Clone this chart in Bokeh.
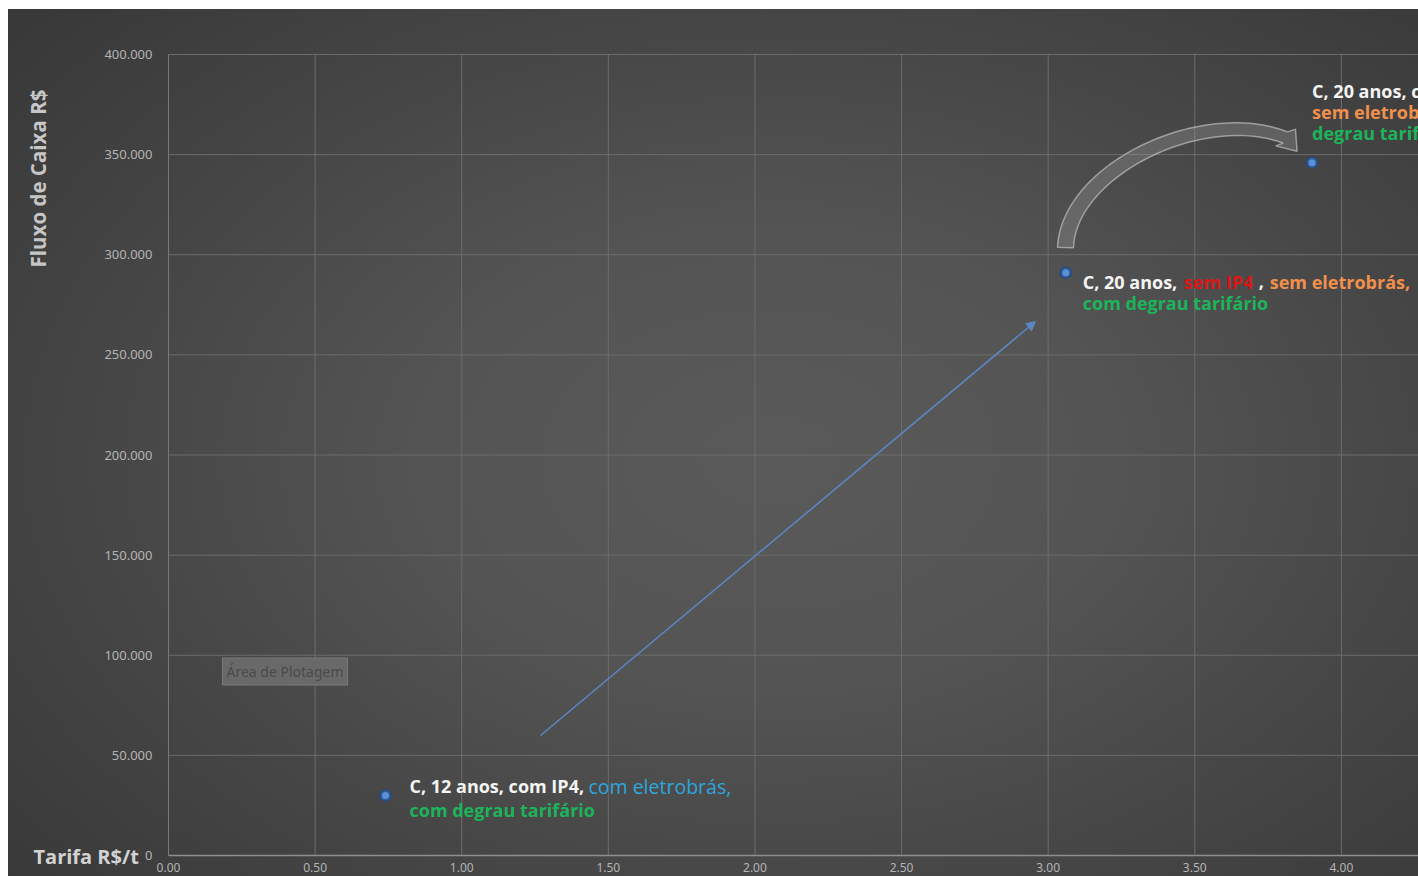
import numpy as np
from bokeh.plotting import figure
from bokeh.models import (Range1d, FixedTicker, CustomJSTickFormatter, NumeralTickFormatter,
                          Label, Arrow, NormalHead)
from bokeh.core.properties import value
from bokeh.embed import file_html
from bokeh.resources import INLINE

# ---------------- data ----------------
tarifa = [0.74, 3.06, 3.90]          # Tarifa R$/t
fluxo = [30000, 291000, 346000]      # Fluxo de Caixa R$
x_ticks = [0.0, 0.5, 1.0, 1.5, 2.0, 2.5, 3.0, 3.5, 4.0]
y_ticks = [0, 50000, 100000, 150000, 200000, 250000, 300000, 350000, 400000]

# text segments: (point index, line, segment text, colour key)
seg_point = [0, 0, 0, 1, 1, 1, 1, 1, 2, 2, 2, 2]
seg_line = [0, 0, 1, 0, 0, 0, 0, 1, 0, 1, 1, 2]
seg_text = ["C, 12 anos, com IP4,", "com eletrobrás,", "com degrau tarifário",
            "C, 20 anos,", "sem IP4", ",", "sem eletrobrás,", "com degrau tarifário",
            "C, 20 anos, com IP4,", "sem eletrobrás,", "com", "degrau tarifário"]
seg_color = ["white", "blue", "green", "white", "red", "white", "orange", "green",
             "white", "orange", "green", "green"]

# ---------------- layout (window pixels) ----------------
W, H = 1410, 867
X_END = 4.263
Y_END = 400000
OX, OY = 168, 855            # window px of data origin
PXU = (1418 - OX) / X_END    # px per x unit
PYU = (OY - 54) / Y_END      # px per y unit


def dx(px):
    return (px - OX) / PXU


def dy(py):
    return (OY - py) / PYU


palette = {"white": "#f4f4f4", "blue": "#2ea6dc", "green": "#1db35a",
           "orange": "#f0904c", "red": "#d81818"}

p = figure(width=W, height=H,
           x_range=Range1d(dx(8), dx(1418)), y_range=Range1d(dy(876), dy(9)),
           output_backend="svg", toolbar_location=None,
           min_border=0, margin=(9, 0, 0, 8),
           background_fill_alpha=0, border_fill_alpha=0, outline_line_color=None)
p.styles = {"background-image":
            "radial-gradient(ellipse 70% 75% at 54% 52%, #5a5a5a 0%, #545454 35%, #474747 65%, #393939 100%)"}
p.grid.visible = False

# grid lines over the plot area only
p.segment(x0=x_ticks, y0=[0] * len(x_ticks), x1=x_ticks, y1=[Y_END] * len(x_ticks),
          line_color="#6c6c6c", line_width=1)
p.segment(x0=[0] * len(y_ticks), y0=y_ticks, x1=[X_END] * len(y_ticks), y1=y_ticks,
          line_color="#6c6c6c", line_width=1)

# axes fixed at the data origin
p.xaxis.fixed_location = 0
p.xaxis.bounds = (0, X_END)
p.xaxis.ticker = FixedTicker(ticks=x_ticks)
p.xaxis.formatter = NumeralTickFormatter(format="0.00")
p.xaxis.axis_line_color = "#8e8e8e"
p.xaxis.axis_line_width = 1.5
p.xaxis.major_tick_line_color = None
p.xaxis.minor_tick_line_color = None
p.xaxis.major_tick_out = 0
p.xaxis.major_tick_in = 0
p.xaxis.major_label_standoff = 7
p.xaxis.major_label_text_color = "#b4b4b4"
p.xaxis.major_label_text_font = "Noto Sans"
p.xaxis.major_label_text_font_size = "12px"

p.yaxis.fixed_location = 0
p.yaxis.bounds = (0, Y_END)
p.yaxis.ticker = FixedTicker(ticks=y_ticks)
p.yaxis.formatter = CustomJSTickFormatter(
    code="return tick.toFixed(0).replace(/\\B(?=(\\d{3})+(?!\\d))/g, '.');")
p.yaxis.axis_line_color = "#787878"
p.yaxis.major_tick_line_color = None
p.yaxis.minor_tick_line_color = None
p.yaxis.major_tick_out = 0
p.yaxis.major_tick_in = 0
p.yaxis.major_label_standoff = 16
p.yaxis.major_label_text_color = "#b4b4b4"
p.yaxis.major_label_text_font = "Noto Sans"
p.yaxis.major_label_text_font_size = "13px"

# straight blue arrow
p.add_layout(Arrow(x_start=dx(540), y_start=dy(735), x_end=dx(1035), y_end=dy(321),
                   line_color="#5a86c2", line_width=1.6,
                   end=NormalHead(size=9, fill_color="#5a86c2", line_color="#5a86c2")))

# curved block arrow (screen-space bezier, converted to data)
P0, P1, P2, P3 = (np.array(v, float) for v in [(1065, 247), (1068, 170), (1200, 105), (1285, 137)])
t = np.linspace(0, 1, 60)[:, None]
C = (1 - t) ** 3 * P0 + 3 * (1 - t) ** 2 * t * P1 + 3 * (1 - t) * t ** 2 * P2 + t ** 3 * P3
D = 3 * (1 - t) ** 2 * (P1 - P0) + 6 * (1 - t) * t * (P2 - P1) + 3 * t ** 2 * (P3 - P2)
D = D / np.linalg.norm(D, axis=1, keepdims=True)
N = np.column_stack([D[:, 1], -D[:, 0]])
wid = (16 - 4 * t[:, 0])[:, None] / 2
outer = C + N * wid
inner = C - N * wid
hd = np.array([np.cos(np.radians(50)), np.sin(np.radians(50))])
hn = np.array([hd[1], -hd[0]])
h_out = P3 + hn * 13
h_in = P3 - hn * 13
tip = P3 + hd * 18
poly = np.vstack([outer, h_out, tip, h_in, inner[::-1]])
p.patch(dx(poly[:, 0]), dy(poly[:, 1]), fill_color="#9a9a9a", fill_alpha=0.33,
        line_color="#bdbdbd", line_alpha=0.7, line_width=1.5)

# points (sphere look)
p.scatter(tarifa, fluxo, size=12, fill_color="#2b5896", line_color="#203f6c", line_width=0.6)
p.scatter(tarifa, fluxo, size=7, fill_color="#5f92d6", line_color=None, alpha=0.95)

# rich text labels next to the points
pt_dx = [24, 17, 0]
pt_dy = [[-9, 15], [9, 30], [-72, -51, -30]]
seg_dx = [0, 179, 0, 0, 101, 176, 187, 0, 0, 0, 150, 0]
for i in range(len(seg_text)):
    k = seg_point[i]
    blue = seg_color[i] == "blue"
    p.text(x=[tarifa[k]], y=[fluxo[k]], text=[seg_text[i]],
           x_offset=pt_dx[k] + seg_dx[i], y_offset=pt_dy[k][seg_line[i]],
           text_color=palette[seg_color[i]], text_font=value("Open Sans"),
           text_font_size="19.5px" if blue else "18px",
           text_font_style="normal" if blue else "bold",
           text_align="left", text_baseline="middle")

# axis titles and tooltip box (annotations)
p.add_layout(Label(x=dx(37), y=dy(178), text="Fluxo de Caixa R$", angle=np.pi / 2,
                   text_align="center", text_baseline="middle", text_color="#c6c6c6",
                   text_font="Open Sans", text_font_size="20.5px", text_font_style="bold"))
p.add_layout(Label(x=dx(33), y=dy(856), text="Tarifa R$/t",
                   text_align="left", text_baseline="alphabetic", text_color="#d2d2d2",
                   text_font="Open Sans", text_font_size="20px", text_font_style="bold"))
p.add_layout(Label(x=dx(222), y=dy(671), text="Área de Plotagem",
                   text_align="left", text_baseline="middle", text_color="#4a4a4a",
                   text_font="Noto Sans", text_font_size="14px",
                   background_fill_color="#696969", background_fill_alpha=1,
                   border_line_color="#7a7a7a", padding=4))

open("out.html", "w").write(file_html(p, INLINE))
